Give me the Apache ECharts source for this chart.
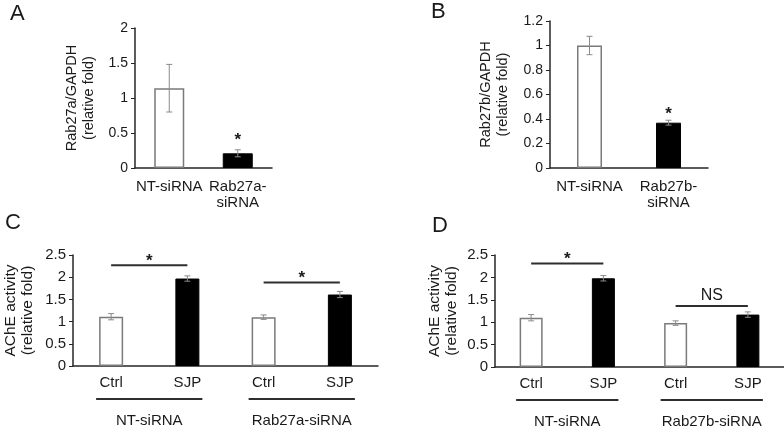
<!DOCTYPE html>
<html>
<head>
<meta charset="utf-8">
<script src="https://cdn.jsdelivr.net/npm/echarts@6/dist/echarts.min.js"></script>
<style>html,body{margin:0;padding:0;background:#fff}#c{width:784px;height:430px}</style>
</head>
<body>
<div id="c"></div>
<script>
// ---- data ----
const catsA = ['NT-siRNA', 'Rab27a-\nsiRNA'];
const valsA = [1.14, 0.21];
const errA = [0.34, 0.05];
const starA = [[1, 0.44, '*']];

const catsB = ['NT-siRNA', 'Rab27b-\nsiRNA'];
const valsB = [1.0, 0.37];
const errB = [0.075, 0.02];
const starB = [[1, 0.46, '*']];

const catsCD = ['Ctrl', 'SJP', 'Ctrl', 'SJP'];
const valsC = [1.11, 1.97, 1.10, 1.61];
const errC = [0.07, 0.06, 0.05, 0.07];
const sigC = [[0, 1, 2.27, '*'], [2, 3, 1.88, '*']];
const groupsC = ['NT-siRNA', 'Rab27a-siRNA'];

const valsD = [1.10, 1.98, 0.98, 1.17];
const errD = [0.07, 0.06, 0.05, 0.06];
const sigD = [[0, 1, 2.31, '*'], [2, 3, 1.36, 'NS']];
const groupsD = ['NT-siRNA', 'Rab27b-siRNA'];

const yNameA = 'Rab27a/GAPDH\n(relative fold)';
const yNameB = 'Rab27b/GAPDH\n(relative fold)';
const yNameCD = 'AChE activity\n(relative fold)';

// ---- styles ----
const FONT = 'Liberation Sans, Arial, sans-serif';
const TXT = '#1a1a1a';
const AX = '#262626';

const chart = echarts.init(document.getElementById('c'), null, {renderer: 'canvas'});

const grids = [
  {left: 135, top: 28, width: 137, height: 140},
  {left: 550, top: 21, width: 158, height: 147},
  {left: 73, top: 255, width: 305, height: 111},
  {left: 495, top: 255, width: 298, height: 112}
];

function xAx(i, cats, margin, fs) {
  return {
    type: 'category', gridIndex: i, data: cats,
    axisLine: {lineStyle: {color: AX, width: 1.5}},
    axisTick: {alignWithLabel: true, length: 4, lineStyle: {color: AX}},
    axisLabel: {color: TXT, fontSize: fs, fontFamily: FONT, margin: margin, lineHeight: 16, interval: 0}
  };
}
function yAx(i, max, interval, name, gap, fs, nfs) {
  return {
    type: 'value', gridIndex: i, min: 0, max: max, interval: interval,
    name: name, nameLocation: 'middle', nameGap: gap, nameRotate: 90,
    nameTextStyle: {color: TXT, fontSize: nfs, fontFamily: FONT, lineHeight: 17},
    splitLine: {show: false},
    axisLine: {show: true, lineStyle: {color: AX, width: 1.5}},
    axisTick: {show: true, length: 4, lineStyle: {color: AX}},
    axisLabel: {color: TXT, fontSize: fs, fontFamily: FONT, margin: 7}
  };
}

function barData(vals) {
  return vals.map((v, i) => ({
    value: v,
    itemStyle: i % 2 === 0 ? {color: '#ffffff', borderColor: '#7a7a7a', borderWidth: 1.5}
                           : {color: '#000000', borderColor: '#000000', borderWidth: 1}
  }));
}
function barSeries(i, vals, width) {
  return {type: 'bar', xAxisIndex: i, yAxisIndex: i, data: barData(vals), barWidth: width, silent: true, z: 2};
}
function errSeries(i, vals, errs) {
  return {
    type: 'custom', xAxisIndex: i, yAxisIndex: i, z: 5, silent: true,
    data: vals.map((v, k) => [k, v, errs[k]]),
    renderItem: function (params, api) {
      const x = api.value(0), v = api.value(1), e = api.value(2);
      const t = api.coord([x, v + e]);
      const b = api.coord([x, v - e]);
      const w = 3;
      const st = {stroke: '#8a8a8a', lineWidth: 1};
      return {type: 'group', children: [
        {type: 'line', shape: {x1: t[0], y1: t[1], x2: b[0], y2: b[1]}, style: st},
        {type: 'line', shape: {x1: t[0] - w, y1: t[1], x2: t[0] + w, y2: t[1]}, style: st},
        {type: 'line', shape: {x1: b[0] - w, y1: b[1], x2: b[0] + w, y2: b[1]}, style: st}
      ]};
    }
  };
}
function starSeries(i, stars) {
  return {
    type: 'custom', xAxisIndex: i, yAxisIndex: i, z: 6, silent: true,
    data: stars.map(s => [s[0], s[1]]),
    renderItem: function (params, api) {
      const p = api.coord([api.value(0), api.value(1)]);
      return {type: 'text', x: p[0], y: p[1] + 3, style: {text: stars[params.dataIndex][2], fill: TXT, font: 'bold 17px ' + FONT, textAlign: 'center', textVerticalAlign: 'middle'}};
    }
  };
}
function sigSeries(i, sigs) {
  return {
    type: 'custom', xAxisIndex: i, yAxisIndex: i, z: 6, silent: true,
    data: sigs.map(s => [s[0], s[1], s[2]]),
    encode: {x: [0, 1], y: 2},
    renderItem: function (params, api) {
      const p1 = api.coord([api.value(0), api.value(2)]);
      const p2 = api.coord([api.value(1), api.value(2)]);
      const lab = sigs[params.dataIndex][3];
      const isStar = lab === '*';
      return {type: 'group', children: [
        {type: 'line', shape: {x1: p1[0], y1: p1[1], x2: p2[0], y2: p2[1]}, style: {stroke: '#2e2e2e', lineWidth: 2}},
        {type: 'text', x: (p1[0] + p2[0]) / 2, y: p1[1] - (isStar ? 4 : 10),
         style: {text: lab, fill: TXT, font: (isStar ? 'bold 17px ' : '16px ') + FONT, textAlign: 'center', textVerticalAlign: 'middle'}}
      ]};
    }
  };
}

const panelLetters = [['A', 19, 15], ['B', 440, 13], ['C', 14, 224], ['D', 441, 227]];

const option = {
  animation: false,
  backgroundColor: '#ffffff',
  grid: grids,
  xAxis: [xAx(0, catsA, 11, 15), xAx(1, catsB, 11, 15), xAx(2, catsCD, 9, 15), xAx(3, catsCD, 9, 15)],
  yAxis: [yAx(0, 2, 0.5, yNameA, 38, 14, 14.5), yAx(1, 1.2, 0.2, yNameB, 39, 14, 14.5),
          yAx(2, 2.5, 0.5, yNameCD, 37, 15, 15.5), yAx(3, 2.5, 0.5, yNameCD, 35, 15, 15.5)],
  series: [
    barSeries(0, valsA, 30), errSeries(0, valsA, errA), starSeries(0, starA),
    barSeries(1, valsB, 25), errSeries(1, valsB, errB), starSeries(1, starB),
    barSeries(2, valsC, 24), errSeries(2, valsC, errC), sigSeries(2, sigC),
    barSeries(3, valsD, 23), errSeries(3, valsD, errD), sigSeries(3, sigD)
  ],
  graphic: panelLetters.map(p => ({type: 'text', left: p[1] - 9, top: p[2] - 12, style: {text: p[0], fill: TXT, font: '22px ' + FONT}}))
};
chart.setOption(option);

// group underlines and group names, positioned via the axes
const extra = [];
[[2, groupsC], [3, groupsD]].forEach(([gi, groups]) => {
  const y0 = chart.convertToPixel({yAxisIndex: gi}, 0);
  groups.forEach((g, k) => {
    const xa = chart.convertToPixel({xAxisIndex: gi}, 2 * k);
    const xb = chart.convertToPixel({xAxisIndex: gi}, 2 * k + 1);
    extra.push({type: 'line', shape: {x1: xa - 15, y1: y0 + 33, x2: xb + 15, y2: y0 + 33}, style: {stroke: '#2e2e2e', lineWidth: 2}});
    extra.push({type: 'text', x: (xa + xb) / 2, y: y0 + 55, style: {text: g, fill: TXT, font: '15px ' + FONT, textAlign: 'center', textVerticalAlign: 'middle'}});
  });
});
chart.setOption({graphic: option.graphic.concat(extra)});
</script>
</body>
</html>
